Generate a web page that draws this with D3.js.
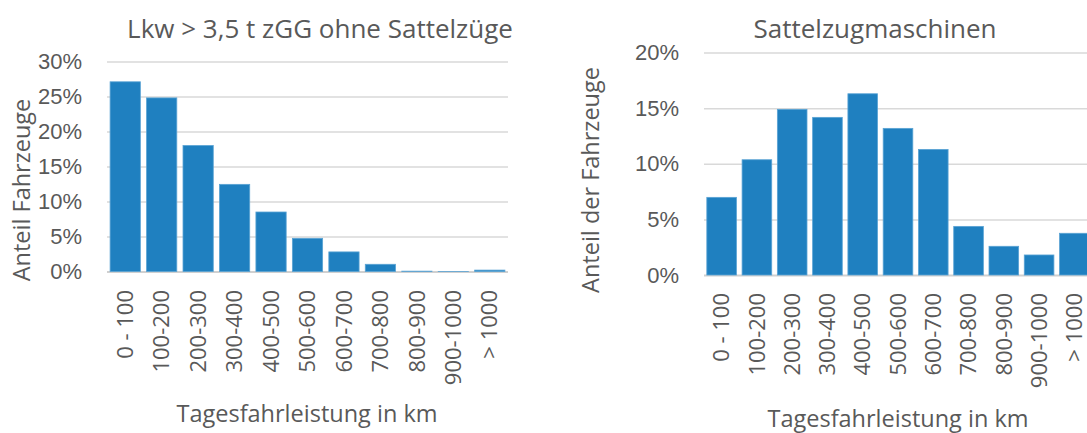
<!DOCTYPE html>
<html>
<head>
<meta charset="utf-8">
<script src="https://cdn.jsdelivr.net/npm/d3@7"></script>
<style>
  body { margin: 0; background: #fff; }
  svg { display: block; font-family: "Open Sans", "Noto Sans", sans-serif; }
  .grid line { stroke: #d9d9d9; stroke-width: 1.5; }
  .grid path { display: none; }
  text { fill: #595959; }
</style>
</head>
<body>
<svg id="chart" width="1087" height="433"></svg>
<script>
"use strict";

const categories = ["0 - 100", "100-200", "200-300", "300-400", "400-500", "500-600",
                    "600-700", "700-800", "800-900", "900-1000", "> 1000"];
const lkwShares = [0.271, 0.248, 0.180, 0.1245, 0.085, 0.0474, 0.028, 0.0103, 0.0005, 0.0001, 0.002];
const szmShares = [0.0698, 0.1036, 0.1489, 0.1417, 0.1629, 0.1318, 0.1129, 0.0437, 0.0258, 0.018, 0.0375];
const lkwTicks = [0, 0.05, 0.10, 0.15, 0.20, 0.25, 0.30];
const szmTicks = [0, 0.05, 0.10, 0.15, 0.20];

const svg = d3.select("#chart");
const pct = d3.format(".0%");

function drawPanel(setting) {
    let g = svg.append("g");
    let scaleX = d3.scaleBand()
        .domain(categories)
        .range([setting.x0, setting.x1])
        .paddingInner(setting.pad)
        .paddingOuter(setting.pad / 2);
    let scaleY = d3.scaleLinear()
        .domain([0, setting.max])
        .range([setting.y0, setting.y1]);

    g.append("g")
    .attr("class", "grid")
    .attr("transform", `translate(${setting.x0}, 0)`)
    .call(d3.axisLeft(scaleY)
        .tickValues(setting.ticks)
        .tickSize(-(setting.x1 - setting.x0))
        .tickPadding(25)
        .tickFormat(pct)
    );
    g.selectAll(".grid text")
    .attr("font-size", 22)
    .attr("fill", "#595959")
    .attr("font-family", null);
    g.selectAll(".grid .tick")
    .filter(d => d === 0)
    .select("line")
    .style("stroke", "#d0d0d0")
    .style("stroke-width", 2);

    g.selectAll("rect.bar")
    .data(setting.values)
    .join("rect")
    .attr("class", "bar")
    .attr("x", (d, i) => scaleX(categories[i]))
    .attr("width", scaleX.bandwidth())
    .attr("y", d => scaleY(d))
    .attr("height", d => scaleY(0) - scaleY(d))
    .attr("fill", "#1f80c0")
    .attr("stroke", "#5aa3d4")
    .attr("stroke-width", 0.8);

    g.selectAll("text.xlab")
    .data(categories)
    .join("text")
    .attr("class", "xlab")
    .attr("transform", d => `translate(${scaleX(d) + scaleX.bandwidth() / 2}, ${setting.labelTop}) rotate(-90)`)
    .attr("text-anchor", "end")
    .attr("dy", "0.35em")
    .attr("font-size", 22)
    .text(d => d);

    g.append("text")
    .attr("x", setting.titleX)
    .attr("y", 38)
    .attr("text-anchor", "middle")
    .attr("font-size", 26)
    .text(setting.title);

    g.append("text")
    .attr("x", setting.xTitleX)
    .attr("y", setting.xTitleY)
    .attr("text-anchor", "middle")
    .attr("font-size", 23.5)
    .text("Tagesfahrleistung in km");

    g.append("text")
    .attr("transform", `translate(${setting.yTitleX}, ${setting.yTitleY}) rotate(-90)`)
    .attr("text-anchor", "middle")
    .attr("font-size", 23.5)
    .text(setting.yTitle);
}

drawPanel({
    values: lkwShares, ticks: lkwTicks, max: 0.30,
    x0: 107, x1: 508, y0: 271.5, y1: 61.5, pad: 0.17,
    labelTop: 290,
    title: "Lkw > 3,5 t zGG ohne Sattelzüge", titleX: 320,
    xTitleX: 307, xTitleY: 422,
    yTitle: "Anteil Fahrzeuge", yTitleX: 29.5, yTitleY: 190
});

drawPanel({
    values: szmShares, ticks: szmTicks, max: 0.20,
    x0: 704, x1: 1092, y0: 275, y1: 52.5, pad: 0.16,
    labelTop: 293,
    title: "Sattelzugmaschinen", titleX: 875,
    xTitleX: 898, xTitleY: 427,
    yTitle: "Anteil der Fahrzeuge", yTitleX: 599, yTitleY: 180
});
</script>
</body>
</html>
